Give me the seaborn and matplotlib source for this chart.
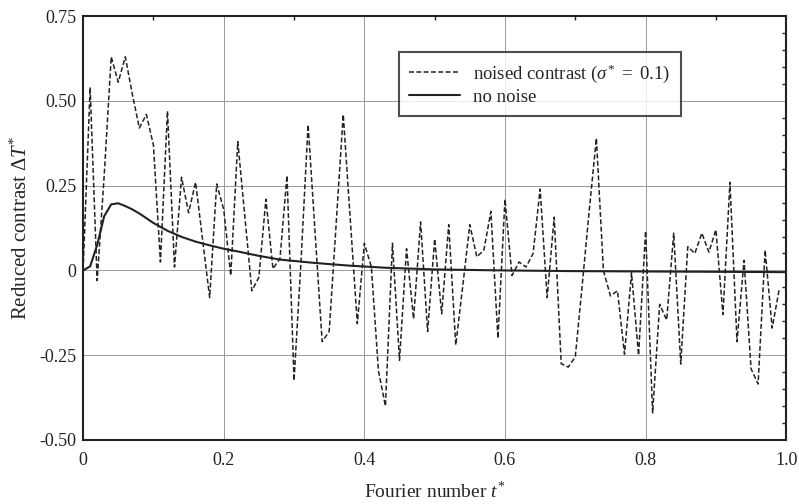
import numpy as np
import pandas as pd
import matplotlib
matplotlib.use('Agg')
import matplotlib.pyplot as plt
from matplotlib.ticker import FixedLocator, FixedFormatter, MultipleLocator
import seaborn as sns

# noised contrast, one value every 0.01 of Fourier number
t_noise = np.round(np.arange(100) * 0.01, 2)
dT_noise = [
    0.0, 0.54, -0.03, 0.28, 0.63, 0.555, 0.63, 0.52, 0.42, 0.46,
    0.37, 0.025, 0.47, 0.01, 0.275, 0.17, 0.26, 0.09, -0.08, 0.255,
    0.18, -0.015, 0.38, 0.16, -0.06, -0.02, 0.21, 0.005, 0.035, 0.28,
    -0.325, 0.03, 0.43, 0.11, -0.21, -0.18, 0.14, 0.46, 0.15, -0.157,
    0.08, 0.01, -0.295, -0.40, 0.08, -0.265, 0.064, -0.143, 0.143, -0.18,
    0.093, -0.128, 0.135, -0.22, -0.045, 0.135, 0.04, 0.06, 0.174, -0.2,
    0.21, -0.015, 0.025, 0.01, 0.05, 0.24, -0.08, 0.157, -0.275, -0.285,
    -0.255, -0.04, 0.18, 0.39, 0.0, -0.075, -0.06, -0.247, -0.007, -0.25,
    0.116, -0.42, -0.1, -0.146, 0.11, -0.276, 0.07, 0.05, 0.11, 0.054,
    0.12, -0.13, 0.26, -0.21, 0.03, -0.29, -0.335, 0.06, -0.17, -0.056,
]

# contrast without noise
t_clean = [0, 0.01, 0.02, 0.03, 0.04, 0.05, 0.06, 0.07, 0.08, 0.10, 0.12, 0.14,
           0.16, 0.18, 0.20, 0.22, 0.25, 0.28, 0.33, 0.38, 0.43, 0.50, 0.60,
           0.70, 0.80, 0.90, 1.00]
dT_clean = [0, 0.012, 0.075, 0.16, 0.195, 0.198, 0.19, 0.18, 0.168, 0.14, 0.117,
            0.099, 0.085, 0.074, 0.064, 0.056, 0.043, 0.032, 0.022, 0.014, 0.008,
            0.003, 0.0, -0.002, -0.003, -0.004, -0.005]

y_ticks = [-0.50, -0.25, 0, 0.25, 0.50, 0.75]
y_labels = ['-0.50', '-0.25', '0', '0.25', '0.50', '0.75']
x_ticks = [0, 0.2, 0.4, 0.6, 0.8, 1.0]
x_labels = ['0', '0.2', '0.4', '0.6', '0.8', '1.0']

sns.set_style('white')
plt.rcParams['font.family'] = ['Liberation Serif', 'DejaVu Serif']
plt.rcParams['mathtext.fontset'] = 'custom'
plt.rcParams['mathtext.rm'] = 'Liberation Serif'
plt.rcParams['mathtext.it'] = 'Liberation Serif:italic'
plt.rcParams['mathtext.bf'] = 'Liberation Serif:bold'

df_noise = pd.DataFrame({'t': t_noise, 'dT': dT_noise})
df_clean = pd.DataFrame({'t': t_clean, 'dT': dT_clean})

fig = plt.figure(figsize=(7.99, 5.04), dpi=100)
ax = fig.add_axes([0.104, 0.127, 0.880, 0.841])

sns.lineplot(data=df_noise, x='t', y='dT', ax=ax, color='#222222', lw=1.1,
             linestyle=(0, (3.2, 1.6)),
             label='noised contrast $\\mathit{(\\sigma^{*}\\ =\\ 0.1)}$')
sns.lineplot(data=df_clean, x='t', y='dT', ax=ax, color='#222222', lw=1.5,
             label='no noise')

ax.set_xlim(0, 1.0)
ax.set_ylim(-0.5, 0.75)
ax.xaxis.set_major_locator(FixedLocator(x_ticks))
ax.xaxis.set_major_formatter(FixedFormatter(x_labels))
ax.yaxis.set_major_locator(FixedLocator(y_ticks))
ax.yaxis.set_major_formatter(FixedFormatter(y_labels))
ax.xaxis.set_minor_locator(MultipleLocator(0.1))
ax.yaxis.set_minor_locator(MultipleLocator(0.05))

ax.grid(True, which='major', color='#9a9a9a', lw=0.7)
ax.tick_params(which='both', direction='in', top=True, right=True,
               colors='#222222', labelsize=13)
ax.tick_params(which='major', length=0, width=0)
ax.tick_params(axis='x', which='major', pad=9)
ax.tick_params(axis='y', which='major', pad=5)
ax.tick_params(which='minor', length=3, width=1)
for s in ax.spines.values():
    s.set_color('#222222')
    s.set_linewidth(1.5)

ax.set_xlabel('Fourier number $\\mathit{t}^{*}$', fontsize=14, labelpad=8)
ax.set_ylabel('Reduced contrast $\\mathit{\\Delta T}^{*}$', fontsize=15, labelpad=5)

leg = ax.legend(loc='upper left', bbox_to_anchor=(0.449, 0.764, 0.402, 0.151),
                mode='expand', fontsize=13.5, frameon=True, fancybox=False,
                handlelength=2.7, handletextpad=0.7, borderpad=0.55,
                labelspacing=0.2, borderaxespad=0)
leg.get_frame().set_edgecolor('#222222')
leg.get_frame().set_linewidth(1.5)

plt.savefig('out.png', dpi=100)
plt.close()
